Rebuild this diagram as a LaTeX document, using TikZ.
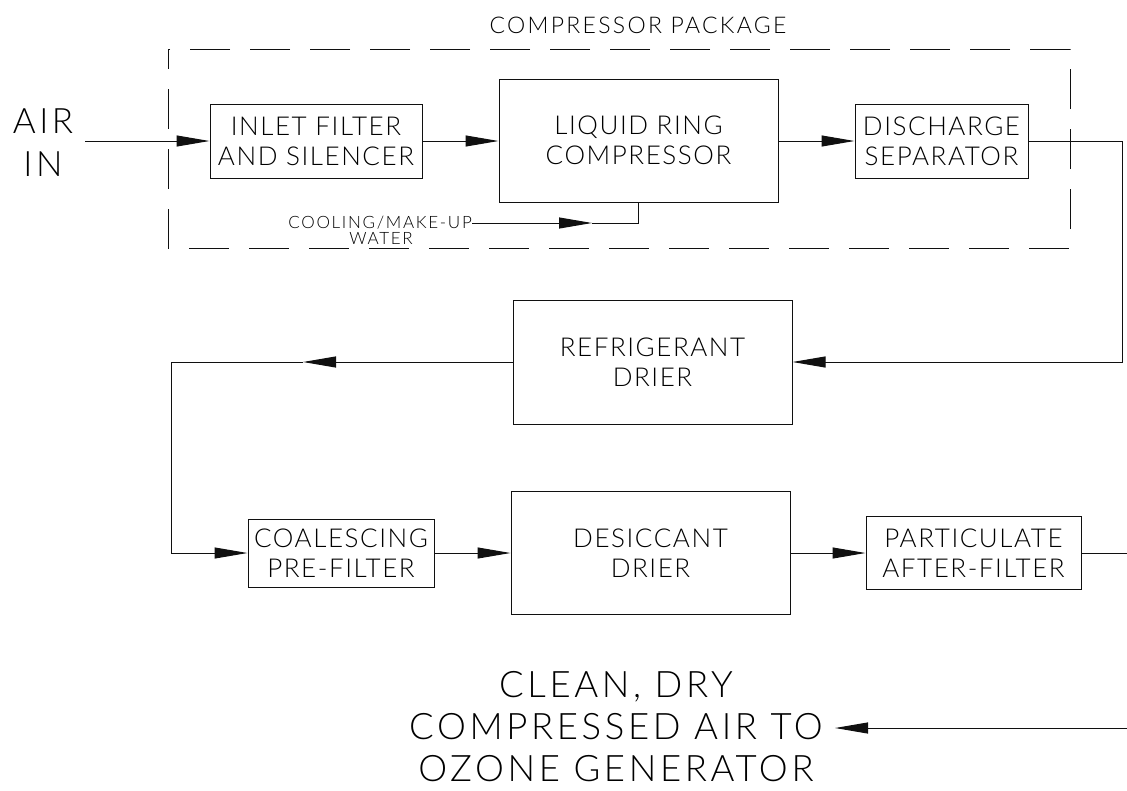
\documentclass[tikz,border=0pt]{standalone}
\usepackage{fontspec}
\setmainfont{Lato}[UprightFont=* Light, LetterSpace=10]
\usepackage{tikz}
\usetikzlibrary{arrows.meta}
\definecolor{pipeblack}{HTML}{101010}

\tikzset{
  unit/.style={draw=pipeblack, line width=1pt, inner sep=0pt, align=center,
    font=\fontsize{26}{30}\selectfont\addfontfeatures{LetterSpace=6}},
  pipe/.style={draw=pipeblack, line width=1pt},
  flow/.style={pipe, -{Triangle[length=33pt,width=11pt]}},
  bigtext/.style={align=center, inner xsep=12pt, inner ysep=0pt,
    font=\fontsize{36.5}{42}\selectfont},
  smalltext/.style={inner sep=0pt, font=\fontsize{17}{14}\selectfont},
}

\begin{document}
\begin{tikzpicture}[x=1pt,y=-1pt]
  \useasboundingbox (0,0) rectangle (1127,790);

  % compressor package frame
  \draw[pipe, dash pattern=on 40pt off 20pt, dash phase=20pt] (168,49) rectangle (1070,248);
  \node[font=\fontsize{23}{26}\selectfont] (pkg) at (638,25) {COMPRESSOR PACKAGE};

  % units
  \node[bigtext, font=\fontsize{35}{43}\selectfont] (air) at (43,143) {AIR\\IN};
  \node[unit, minimum width=212pt, minimum height=74pt] (filter) at (316,141) {INLET FILTER\\AND SILENCER};
  \node[unit, minimum width=279pt, minimum height=123pt] (comp) at (638.5,140.5) {LIQUID RING\\COMPRESSOR};
  \node[unit, minimum width=173pt, minimum height=74pt] (sep) at (941.5,141) {DISCHARGE\\SEPARATOR};
  \node[unit, minimum width=279pt, minimum height=124pt] (refr) at (652.5,362) {REFRIGERANT\\DRIER};
  \node[unit, minimum width=186pt, minimum height=68pt] (coal) at (341,553) {COALESCING\\PRE-FILTER};
  \node[unit, minimum width=279pt, minimum height=123pt] (desi) at (650.5,553) {DESICCANT\\DRIER};
  \node[unit, minimum width=215pt, minimum height=73pt] (part) at (973.5,553) {PARTICULATE\\AFTER-FILTER};
  \node[bigtext, anchor=east] (out) at (835,727) {CLEAN, DRY\\COMPRESSED AIR TO\\OZONE GENERATOR};

  \node[smalltext, anchor=east] (cooltxt) at (472,223) {COOLING/MAKE-UP};
  \node[smalltext] (water) at (381,238) {WATER};

  % bends and free ends
  \coordinate (cmid) at (592,223);
  \coordinate (rgt) at (1122,141);
  \coordinate (lft) at (171,362);
  \coordinate (rmid) at (303,362);
  \coordinate (edge) at (1127,0);
  \coordinate (outin) at (1127,728);

  % flow lines
  \draw[flow] (filter.west -| air.east) -- (filter.west);
  \draw[flow] (filter.east) -- (comp.west |- filter.east);
  \draw[flow] (comp.east |- sep.west) -- (sep.west);
  \draw[flow] (cooltxt.east) -- (cmid);
  \draw[pipe] (cmid) -- (cmid -| comp.south) -- (comp.south);
  \draw[flow] (sep.east) -- (rgt) -- (rgt |- refr.east) -- (refr.east);
  \draw[flow] (refr.west) -- (rmid);
  \draw[flow] (rmid) -- (lft) -- (lft |- coal.west) -- (coal.west);
  \draw[flow] (coal.east) -- (desi.west);
  \draw[flow] (desi.east) -- (part.west);
  \draw[pipe] (part.east) -- (part.east -| edge);
  \draw[flow] (outin) -- (outin -| out.east);
\end{tikzpicture}
\end{document}
